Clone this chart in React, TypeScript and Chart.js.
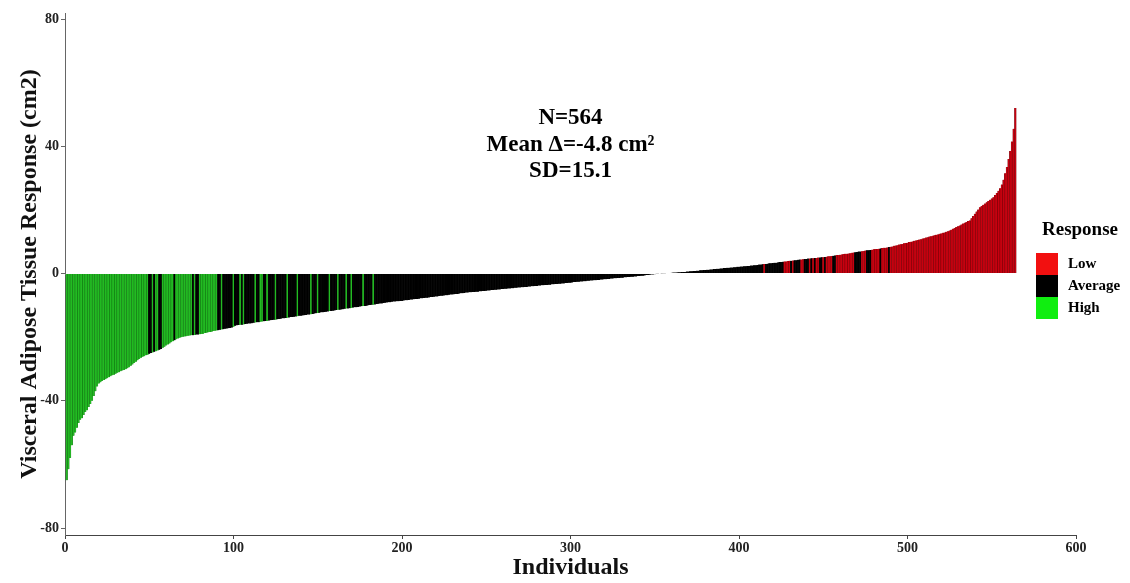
import React, { useEffect, useRef } from "react";
import { Chart, registerables } from "chart.js";

Chart.register(...registerables);

// Sorted change in visceral adipose tissue (cm2) per individual
const VAT_CHANGE: number[] = [
  -65, -61.5, -58, -54, -51, -50, -48.5, -47, -46, -45.5,
  -44.5, -43.5, -43, -42, -41, -40, -38.5, -37, -35.5, -34.6,
  -34.2, -33.8, -33.5, -33.2, -32.9, -32.6, -32.3, -32.0, -31.8, -31.5,
  -31.2, -31.0, -30.7, -30.5, -30.3, -30.1, -29.8, -29.5, -29.0, -28.6,
  -28.1, -27.7, -27.3, -26.9, -26.5, -26.2, -26.0, -25.7, -25.5, -25.2,
  -25.0, -24.8, -24.6, -24.4, -24.2, -24.0, -23.7, -23.3, -23.0, -22.6,
  -22.3, -22.0, -21.6, -21.3, -21.0, -20.7, -20.4, -20.2, -20.0, -19.9,
  -19.8, -19.7, -19.6, -19.5, -19.4, -19.4, -19.3, -19.2, -19.2, -19.1,
  -19.0, -18.9, -18.7, -18.6, -18.5, -18.4, -18.3, -18.1, -18.0, -17.9,
  -17.8, -17.7, -17.6, -17.5, -17.4, -17.3, -17.2, -17.1, -17.0, -16.7,
  -16.4, -16.3, -16.2, -16.1, -16.1, -16.0, -15.9, -15.8, -15.7, -15.7,
  -15.6, -15.5, -15.4, -15.3, -15.3, -15.2, -15.1, -15.0, -14.9, -14.9,
  -14.8, -14.7, -14.6, -14.5, -14.5, -14.4, -14.3, -14.2, -14.1, -14.1,
  -14.0, -13.9, -13.8, -13.7, -13.7, -13.6, -13.5, -13.4, -13.3, -13.3,
  -13.2, -13.1, -13.0, -12.9, -12.9, -12.8, -12.7, -12.6, -12.5, -12.4,
  -12.3, -12.2, -12.2, -12.1, -12.0, -11.9, -11.8, -11.8, -11.7, -11.6,
  -11.5, -11.4, -11.4, -11.3, -11.2, -11.1, -11.0, -11.0, -10.9, -10.8,
  -10.7, -10.6, -10.6, -10.5, -10.4, -10.3, -10.2, -10.2, -10.1, -10.0,
  -9.9, -9.8, -9.8, -9.7, -9.6, -9.5, -9.4, -9.4, -9.3, -9.2,
  -9.1, -9.0, -9.0, -8.9, -8.8, -8.8, -8.7, -8.7, -8.6, -8.6,
  -8.5, -8.4, -8.4, -8.3, -8.2, -8.2, -8.1, -8.0, -8.0, -7.9,
  -7.8, -7.8, -7.7, -7.6, -7.6, -7.5, -7.4, -7.4, -7.3, -7.2,
  -7.2, -7.1, -7.0, -7.0, -6.9, -6.8, -6.8, -6.7, -6.6, -6.6,
  -6.5, -6.4, -6.4, -6.3, -6.2, -6.2, -6.1, -6.0, -6.0, -5.9,
  -5.9, -5.8, -5.8, -5.7, -5.7, -5.6, -5.6, -5.5, -5.5, -5.4,
  -5.3, -5.3, -5.2, -5.2, -5.1, -5.1, -5.0, -5.0, -4.9, -4.9,
  -4.8, -4.8, -4.7, -4.7, -4.6, -4.6, -4.5, -4.5, -4.4, -4.4,
  -4.3, -4.3, -4.2, -4.2, -4.1, -4.1, -4.0, -4.0, -3.9, -3.9,
  -3.8, -3.8, -3.7, -3.7, -3.6, -3.6, -3.5, -3.5, -3.4, -3.4,
  -3.3, -3.3, -3.2, -3.2, -3.1, -3.1, -3.0, -3.0, -2.9, -2.9,
  -2.8, -2.7, -2.7, -2.6, -2.6, -2.5, -2.5, -2.4, -2.4, -2.3,
  -2.3, -2.2, -2.2, -2.1, -2.1, -2.0, -2.0, -1.9, -1.9, -1.8,
  -1.8, -1.7, -1.7, -1.6, -1.6, -1.5, -1.5, -1.4, -1.4, -1.3,
  -1.3, -1.2, -1.2, -1.1, -1.1, -1.0, -1.0, -0.9, -0.9, -0.8,
  -0.8, -0.7, -0.7, -0.6, -0.5, -0.5, -0.4, -0.3, -0.3, -0.2,
  -0.1, -0.1, 0.0, 0.05, 0.1, 0.1, 0.15, 0.2, 0.2, 0.25,
  0.3, 0.3, 0.35, 0.4, 0.4, 0.45, 0.5, 0.5, 0.6, 0.6,
  0.7, 0.7, 0.8, 0.8, 0.9, 0.9, 1.0, 1.0, 1.1, 1.1,
  1.2, 1.2, 1.3, 1.3, 1.4, 1.4, 1.5, 1.5, 1.6, 1.6,
  1.7, 1.7, 1.8, 1.8, 1.9, 1.9, 2.0, 2.0, 2.1, 2.1,
  2.2, 2.2, 2.3, 2.3, 2.4, 2.4, 2.5, 2.5, 2.6, 2.6,
  2.7, 2.8, 2.8, 2.9, 3.0, 3.0, 3.1, 3.2, 3.2, 3.3,
  3.4, 3.4, 3.5, 3.6, 3.6, 3.7, 3.8, 3.8, 3.9, 4.0,
  4.0, 4.1, 4.2, 4.2, 4.3, 4.4, 4.4, 4.5, 4.6, 4.6,
  4.7, 4.7, 4.8, 4.8, 4.9, 4.9, 5.0, 5.0, 5.1, 5.1,
  5.2, 5.3, 5.4, 5.4, 5.5, 5.6, 5.7, 5.8, 5.8, 5.9,
  6.0, 6.1, 6.2, 6.2, 6.3, 6.4, 6.5, 6.6, 6.7, 6.8,
  6.9, 6.9, 7.0, 7.1, 7.2, 7.3, 7.3, 7.4, 7.5, 7.6,
  7.7, 7.7, 7.8, 7.9, 8.0, 8.1, 8.1, 8.2, 8.3, 8.4,
  8.5, 8.7, 8.8, 8.9, 9.1, 9.2, 9.3, 9.5, 9.6, 9.7,
  9.9, 10.0, 10.1, 10.3, 10.4, 10.5, 10.7, 10.8, 11.0, 11.1,
  11.3, 11.4, 11.6, 11.7, 11.9, 12.0, 12.2, 12.3, 12.5, 12.6,
  12.8, 12.9, 13.1, 13.3, 13.5, 13.8, 14.1, 14.3, 14.6, 14.9,
  15.1, 15.4, 15.7, 16.0, 16.2, 16.5, 16.7, 17.4, 18.1, 18.8,
  19.5, 20.1, 20.8, 21.2, 21.6, 22.0, 22.4, 22.8, 23.2, 23.6,
  24.0, 24.7, 25.3, 26.0, 26.8, 28.0, 29.5, 31.5, 33.5, 36.0,
  38.5, 41.5, 45.5, 52.0,
];

// Response group per individual (H = High, A = Average, L = Low), 10 per row
const RESPONSE_ROWS: string[] = [
  "HHHHHHHHHH", "HHHHHHHHHH", "HHHHHHHHHH", "HHHHHHHHHH", "HHHHHHHHHA",
  "AHAHHAAHHH", "HHHHAHHHHH", "HHHHHAHAAH", "HHHHHHHHHH", "AAHAAAAAAH",
  "AAAHAHAAAA", "AAHAAHHAAH", "AAAAHAAAAA", "AHAAAAAHAA", "AAAAAHAAAH",
  "AAAAAAHAAA", "AHAAAAHAAH", "AAAAAAHAAA", "AAHAAAAAAA",
  "AAAAAAAAAA", "AAAAAAAAAA", "AAAAAAAAAA", "AAAAAAAAAA", "AAAAAAAAAA",
  "AAAAAAAAAA", "AAAAAAAAAA", "AAAAAAAAAA", "AAAAAAAAAA", "AAAAAAAAAA",
  "AAAAAAAAAA", "AAAAAAAAAA", "AAAAAAAAAA", "AAAAAAAAAA", "AAAAAAAAAA",
  "AAAAAAAAAA", "AAAAAAAAAA", "AAAAAAAAAA", "AAAAAAAAAA", "AAAAAAAAAA",
  "AAAAAAAAAA", "AAAAAAAAAA",
  "AAAALAAAAA", "AAAAAALLLL", "ALAAAALLAA", "ALALALLAAL", "ALLLLAALLL",
  "LLLLLLLLAA", "AALLLAAALL", "LLLALLLLAL",
  "LLLLLLLLLL", "LLLLLLLLLL", "LLLLLLLLLL", "LLLLLLLLLL", "LLLLLLLLLL",
  "LLLLLLLLLL", "LLLLLLLLLL",
  "LLLL",
];

const X_TICKS: number[] = [0, 100, 200, 300, 400, 500, 600];
const Y_TICKS: number[] = [-80, -40, 0, 40, 80];

const LEGEND_LABELS: string[] = ["Low", "Average", "High"];
const LEGEND_KEYS: string[] = ["L", "A", "H"];
const ANNOTATION_LINES: string[] = ["N=564", "Mean \u0394=-4.8 cm\u00B2", "SD=15.1"];
const ANNOTATION_Y: number[] = [49, 40.5, 32.3];

const BAR_COLORS: Record<string, string> = { H: "#22bb22", A: "#000000", L: "#c8000f" };
const BAR_EDGES: Record<string, string> = { H: "#0c5a0c", A: "#000000", L: "#5a0006" };
const KEY_COLORS: Record<string, string> = { H: "#10ee10", A: "#000000", L: "#f21010" };

const FONT = "'Liberation Serif', 'Times New Roman', serif";

export default function App() {
  const canvasRef = useRef<HTMLCanvasElement | null>(null);

  useEffect(() => {
    const canvas = canvasRef.current;
    if (!canvas) return;
    const groups = RESPONSE_ROWS.join("");
    const points = VAT_CHANGE.map((v, i) => ({ x: i + 1, y: v }));

    const overlay = {
      id: "overlay",
      afterDraw(chart: any) {
        const { ctx } = chart;
        const xs = chart.scales.x;
        const ys = chart.scales.y;
        ctx.save();
        // annotation
        ctx.fillStyle = "#000";
        ctx.textAlign = "center";
        ctx.textBaseline = "middle";
        ctx.font = `bold 23px ${FONT}`;
        ANNOTATION_LINES.forEach((t, k) => {
          ctx.fillText(t, xs.getPixelForValue(300), ys.getPixelForValue(ANNOTATION_Y[k]));
        });
        // legend
        const left = chart.width - 94;
        const top = 218;
        ctx.font = `bold 19px ${FONT}`;
        ctx.textAlign = "left";
        ctx.fillText("Response", left + 6, top + 12);
        const box = 22;
        LEGEND_KEYS.forEach((key, k) => {
          const y0 = top + 35 + k * box;
          ctx.fillStyle = KEY_COLORS[key];
          ctx.fillRect(left, y0, box, box);
          ctx.fillStyle = "#000";
          ctx.font = `bold 15px ${FONT}`;
          ctx.fillText(LEGEND_LABELS[k], left + 32, y0 + box / 2);
        });
        ctx.restore();
      },
    };

    const chart = new Chart(canvas, {
      type: "bar",
      data: {
        datasets: [
          {
            label: "Response",
            data: points as any,
            backgroundColor: (c: any) => BAR_COLORS[groups[c.dataIndex]] || "#000",
            borderColor: (c: any) => BAR_EDGES[groups[c.dataIndex]] || "#000",
            borderWidth: { left: 0.35, right: 0.35, top: 0, bottom: 0 },
            borderSkipped: false,
            barPercentage: 1,
            categoryPercentage: 1,
          },
        ],
      },
      options: {
        animation: false,
        responsive: true,
        maintainAspectRatio: false,
        layout: { padding: { top: 13, right: 54, bottom: 0, left: 0 } },
        plugins: {
          legend: { display: false },
          tooltip: { enabled: false },
        },
        scales: {
          x: {
            type: "linear",
            min: 0,
            max: 600,
            offset: false,
            afterBuildTicks: (s: any) => {
              s.ticks = X_TICKS.map((v) => ({ value: v }));
            },
            afterFit: (s: any) => {
              s.height = 48;
            },
            grid: { display: true, offset: false, drawOnChartArea: false, drawTicks: true, tickLength: 4, color: "#444" },
            border: { display: true, color: "#444", width: 1 },
            ticks: { color: "#222", padding: 1, font: { family: FONT, size: 14, weight: "bold" }, maxRotation: 0 },
            title: {
              display: true,
              text: "Individuals",
              color: "#111",
              font: { family: FONT, size: 24, weight: "bold" },
              padding: { top: 0, bottom: 1 },
            },
          },
          y: {
            type: "linear",
            min: -82.2,
            max: 81.9,
            afterBuildTicks: (s: any) => {
              s.ticks = Y_TICKS.map((v) => ({ value: v }));
            },
            afterFit: (s: any) => {
              s.width = 65;
            },
            grid: { display: true, offset: false, drawOnChartArea: false, drawTicks: true, tickLength: 4, color: "#666" },
            border: { display: true, color: "#666", width: 1 },
            ticks: { color: "#222", padding: 2, font: { family: FONT, size: 14, weight: "bold" } },
            title: {
              display: true,
              text: "Visceral Adipose Tissue Response (cm2)",
              color: "#111",
              font: { family: FONT, size: 24, weight: "bold" },
              padding: { top: 15, bottom: 0 },
            },
          },
        },
      },
      plugins: [overlay],
    });

    return () => chart.destroy();
  }, []);

  return (
    <div style={{ position: "absolute", left: 0, top: 0, width: 1130, height: 583, background: "#fff" }}>
      <canvas ref={canvasRef} />
    </div>
  );
}
